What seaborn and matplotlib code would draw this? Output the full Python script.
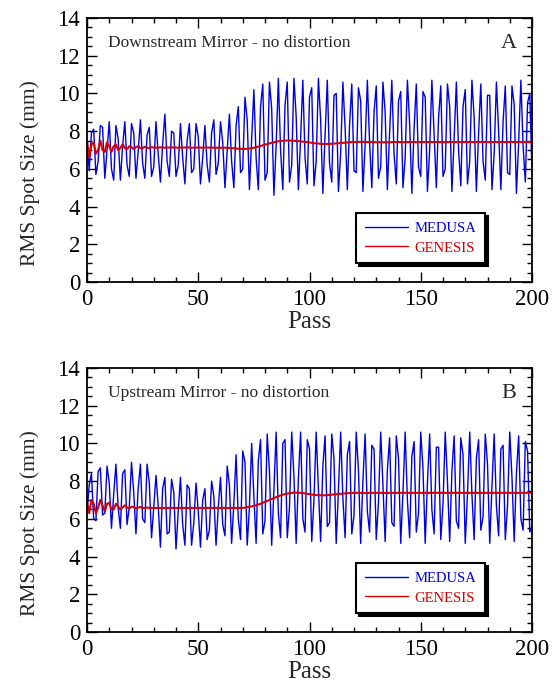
import numpy as np
import pandas as pd
import matplotlib
matplotlib.use("Agg")
import matplotlib.pyplot as plt
from matplotlib.ticker import MultipleLocator
import seaborn as sns

# ---------------- data ----------------
medusa_a = [
    7.4, 5.9, 7.9, 8.1, 5.7, 6.4, 8.3, 8.2, 5.5, 7.0,
    8.5, 6.0, 5.4, 8.3, 7.6, 5.4, 7.2, 8.5, 6.2, 5.6,
    8.4, 7.9, 5.5, 6.9, 8.6, 6.3, 5.5, 7.8, 8.2, 5.6,
    6.1, 8.5, 6.8, 5.3, 7.3, 8.9, 6.4, 5.6, 8.0, 7.9,
    5.6, 6.2, 8.4, 6.6, 5.2, 7.5, 8.4, 5.8, 6.0, 8.4,
    7.7, 5.2, 6.6, 8.3, 6.2, 5.3, 7.9, 8.6, 5.7, 6.3,
    8.5, 7.4, 5.0, 7.0, 8.9, 6.4, 5.0, 8.3, 9.3, 5.8,
    6.0, 9.8, 8.6, 4.9, 7.5, 10.2, 6.6, 4.9, 9.3, 10.5,
    5.4, 5.8, 10.6, 9.2, 4.6, 7.2, 10.8, 7.0, 4.9, 9.4,
    10.6, 5.3, 6.2, 10.8, 8.8, 4.9, 7.6, 10.7, 6.6, 5.2,
    9.8, 10.3, 5.1, 6.4, 10.8, 8.6, 4.7, 7.8, 10.7, 6.3,
    5.3, 9.9, 10.0, 4.8, 6.8, 10.6, 8.2, 4.9, 8.3, 10.5,
    5.9, 5.8, 10.3, 9.6, 4.8, 7.3, 10.7, 7.4, 5.0, 9.0,
    10.4, 5.5, 6.1, 10.6, 9.0, 4.9, 7.9, 10.7, 6.8, 5.2,
    9.6, 10.1, 5.0, 6.6, 10.7, 8.4, 4.7, 8.1, 10.5, 6.1,
    5.6, 10.1, 9.8, 4.8, 7.0, 10.7, 7.8, 5.0, 8.7, 10.4,
    5.6, 6.0, 10.5, 9.3, 4.8, 7.6, 10.6, 7.0, 5.1, 9.3,
    10.2, 5.2, 6.4, 10.7, 8.7, 4.8, 7.9, 10.5, 6.4, 5.4,
    9.9, 9.9, 4.9, 6.8, 10.6, 8.0, 4.9, 8.5, 10.4, 5.8,
    5.7, 10.4, 9.4, 4.7, 7.4, 10.7, 7.2, 5.3, 9.5, 10.0,
    5.8,
]
genesis_a = [
    7.5, 6.6, 7.3, 7.4, 6.8, 7.0, 7.5, 7.0, 6.9, 7.4,
    7.2, 6.9, 7.2, 7.3, 7.0, 7.1, 7.3, 7.1, 7.05, 7.2,
    7.15, 7.05, 7.15, 7.2, 7.1, 7.1, 7.17, 7.12, 7.1, 7.15,
    7.13, 7.12, 7.13, 7.14, 7.13, 7.12, 7.13, 7.13, 7.14, 7.13,
    7.13, 7.12, 7.13, 7.13, 7.13, 7.14, 7.13, 7.12, 7.13, 7.13,
    7.13, 7.13, 7.12, 7.13, 7.13, 7.13, 7.13, 7.12, 7.12, 7.12,
    7.12, 7.12, 7.12, 7.11, 7.11, 7.1, 7.09, 7.08, 7.07, 7.06,
    7.06, 7.06, 7.07, 7.08, 7.1, 7.12, 7.15, 7.18, 7.21, 7.25,
    7.28, 7.32, 7.35, 7.38, 7.41, 7.44, 7.46, 7.48, 7.49, 7.5,
    7.5, 7.5, 7.5, 7.49, 7.48, 7.47, 7.45, 7.44, 7.43, 7.42,
    7.4, 7.38, 7.36, 7.35, 7.34, 7.33, 7.32, 7.32, 7.32, 7.32,
    7.33, 7.34, 7.35, 7.36, 7.37, 7.38, 7.39, 7.4, 7.41, 7.42,
    7.42, 7.42, 7.43, 7.43, 7.43, 7.42, 7.42, 7.42, 7.42, 7.42,
    7.41, 7.41, 7.41, 7.41, 7.41, 7.41, 7.41, 7.42, 7.42, 7.42,
    7.42, 7.42, 7.42, 7.42, 7.42, 7.42, 7.42, 7.42, 7.42, 7.42,
    7.42, 7.42, 7.42, 7.42, 7.42, 7.42, 7.42, 7.42, 7.42, 7.42,
    7.42, 7.42, 7.42, 7.42, 7.42, 7.42, 7.42, 7.42, 7.42, 7.42,
    7.42, 7.42, 7.42, 7.42, 7.42, 7.42, 7.42, 7.42, 7.42, 7.42,
    7.42, 7.42, 7.42, 7.42, 7.42, 7.42, 7.42, 7.42, 7.42, 7.42,
    7.42, 7.42, 7.42, 7.42, 7.42, 7.42, 7.42, 7.42, 7.42, 7.42,
    7.42,
]
medusa_b = [
    6.3, 7.8, 8.4, 6.0, 5.9, 8.5, 8.7, 6.2, 6.3, 8.8,
    7.9, 5.5, 7.3, 8.9, 6.6, 5.5, 8.4, 8.6, 5.7, 6.6,
    9.0, 7.4, 5.2, 7.6, 8.9, 6.0, 5.8, 8.9, 7.9, 5.0,
    6.6, 8.3, 6.7, 4.5, 7.6, 8.2, 5.2, 5.3, 8.1, 7.4,
    4.4, 6.4, 8.2, 5.7, 4.6, 7.8, 7.6, 4.6, 5.8, 7.9,
    6.4, 4.5, 7.0, 7.6, 4.9, 5.4, 8.0, 7.2, 4.6, 6.6,
    8.2, 5.7, 5.1, 8.8, 7.8, 4.7, 6.8, 9.4, 6.0, 4.9,
    9.6, 9.0, 4.6, 6.6, 10.0, 7.2, 4.7, 9.1, 10.2, 5.2,
    5.9, 10.5, 8.5, 4.6, 7.5, 10.6, 6.3, 5.0, 10.0, 10.2,
    5.0, 6.6, 10.6, 8.3, 4.7, 8.1, 10.6, 6.0, 5.3, 10.2,
    9.7, 4.8, 7.0, 10.6, 7.6, 4.8, 8.8, 10.4, 5.6, 5.8,
    10.5, 9.2, 4.7, 7.5, 10.6, 7.1, 5.0, 9.4, 10.1, 5.2,
    6.2, 10.6, 8.6, 4.7, 8.0, 10.5, 6.4, 5.3, 9.9, 9.7,
    4.9, 6.9, 10.6, 7.8, 4.8, 8.6, 10.3, 5.8, 5.6, 10.4,
    9.2, 4.7, 7.4, 10.6, 7.0, 5.0, 9.3, 10.1, 5.3, 6.3,
    10.6, 8.7, 4.7, 7.9, 10.5, 6.5, 5.2, 9.8, 9.8, 4.9,
    6.8, 10.6, 8.0, 4.8, 8.5, 10.4, 5.9, 5.5, 10.3, 9.4,
    4.7, 7.3, 10.6, 7.3, 4.9, 9.2, 10.2, 5.4, 6.1, 10.5,
    8.9, 4.7, 7.7, 10.5, 6.7, 5.1, 9.7, 9.9, 4.9, 6.7,
    10.6, 8.2, 4.8, 8.4, 10.4, 6.0, 5.4, 10.1, 9.6, 5.3,
    5.6,
]
genesis_b = [
    6.9, 6.3, 7.0, 6.8, 6.3, 6.6, 7.0, 6.7, 6.4, 6.8,
    6.85, 6.5, 6.5, 6.8, 6.65, 6.5, 6.6, 6.72, 6.6, 6.55,
    6.65, 6.63, 6.55, 6.6, 6.63, 6.57, 6.58, 6.6, 6.58, 6.57,
    6.58, 6.58, 6.57, 6.58, 6.58, 6.58, 6.57, 6.58, 6.58, 6.58,
    6.58, 6.57, 6.58, 6.58, 6.58, 6.58, 6.57, 6.58, 6.58, 6.58,
    6.58, 6.58, 6.57, 6.58, 6.58, 6.58, 6.58, 6.57, 6.58, 6.58,
    6.58, 6.58, 6.58, 6.57, 6.58, 6.58, 6.58, 6.58, 6.58, 6.58,
    6.58, 6.6, 6.62, 6.64, 6.66, 6.69, 6.72, 6.76, 6.8, 6.85,
    6.9, 6.95, 7.0, 7.05, 7.1, 7.15, 7.2, 7.24, 7.28, 7.31,
    7.34, 7.36, 7.38, 7.39, 7.39, 7.39, 7.38, 7.37, 7.35, 7.33,
    7.31, 7.29, 7.27, 7.26, 7.25, 7.25, 7.25, 7.25, 7.26, 7.27,
    7.28, 7.3, 7.31, 7.32, 7.33, 7.34, 7.35, 7.36, 7.37, 7.37,
    7.38, 7.38, 7.38, 7.38, 7.37, 7.37, 7.37, 7.38, 7.38, 7.38,
    7.38, 7.38, 7.38, 7.37, 7.37, 7.37, 7.38, 7.38, 7.38, 7.38,
    7.38, 7.38, 7.38, 7.38, 7.38, 7.38, 7.38, 7.38, 7.38, 7.38,
    7.38, 7.38, 7.38, 7.38, 7.38, 7.38, 7.38, 7.38, 7.38, 7.38,
    7.38, 7.38, 7.38, 7.38, 7.38, 7.38, 7.38, 7.38, 7.38, 7.38,
    7.38, 7.38, 7.38, 7.38, 7.38, 7.38, 7.38, 7.38, 7.38, 7.38,
    7.38, 7.38, 7.38, 7.38, 7.38, 7.38, 7.38, 7.38, 7.38, 7.38,
    7.38, 7.38, 7.38, 7.38, 7.38, 7.38, 7.38, 7.38, 7.38, 7.38,
    7.38,
]
series_names = ["MEDUSA", "GENESIS"]
panel_titles = ["Downstream Mirror - no distortion", "Upstream Mirror - no distortion"]
panel_letters = ["A", "B"]
x_label = "Pass"
y_label = "RMS Spot Size (mm)"

# ---------------- style ----------------
sns.set_style("ticks")
plt.rcParams["font.family"] = ["Liberation Serif", "DejaVu Serif"]

BLUE = "#0000e6"
RED = "#d40000"

fig = plt.figure(figsize=(5.6, 6.84), dpi=100)
W, H = 560.0, 684.0
ax_a = fig.add_axes([87 / W, 1 - 282 / H, 445 / W, 264 / H])
ax_b = fig.add_axes([87 / W, 1 - 632 / H, 445 / W, 264 / H])

panels = [(ax_a, medusa_a, genesis_a), (ax_b, medusa_b, genesis_b)]
for i, (ax, med, gen) in enumerate(panels):
    df = pd.DataFrame({
        "Pass": list(range(len(med))) + list(range(len(gen))),
        "Size": med + gen,
        "Code": [series_names[0]] * len(med) + [series_names[1]] * len(gen),
    })
    sns.lineplot(data=df[df.Code == series_names[0]], x="Pass", y="Size", ax=ax,
                 color=BLUE, lw=1.0, label=series_names[0], estimator=None)
    sns.lineplot(data=df[df.Code == series_names[1]], x="Pass", y="Size", ax=ax,
                 color=RED, lw=1.5, label=series_names[1], estimator=None)

    ax.set_xlim(0, 200)
    ax.set_ylim(0, 14)
    ax.xaxis.set_major_locator(MultipleLocator(50))
    ax.xaxis.set_minor_locator(MultipleLocator(10))
    ax.yaxis.set_major_locator(MultipleLocator(2))
    ax.yaxis.set_minor_locator(MultipleLocator(0.5))
    ax.tick_params(which="both", direction="in", top=True, right=True,
                   width=1.0, colors="black")
    ax.tick_params(which="major", length=7, labelsize=16.5, pad=5)
    ax.tick_params(which="minor", length=3.5)
    for sp in ax.spines.values():
        sp.set_linewidth(1.3)
        sp.set_color("black")
    ax.set_xlabel(x_label, fontsize=18, labelpad=1)
    ax.set_ylabel(y_label, fontsize=15.5)
    ax.yaxis.set_label_coords(-0.105, 0.413)

    ax.text(0.047, 0.905, panel_titles[i], transform=ax.transAxes,
            fontsize=12.5, ha="left", va="center")
    ax.text(0.965, 0.905, panel_letters[i], transform=ax.transAxes,
            fontsize=16, ha="right", va="center")

    leg = ax.legend(loc="upper left", bbox_to_anchor=(0.604, 0.262),
                    fontsize=10.5, frameon=True, fancybox=False,
                    framealpha=1, edgecolor="black", handlelength=3.0,
                    handletextpad=0.45, borderpad=0.6, labelspacing=0.45,
                    borderaxespad=0,
                    shadow={"color": "black", "alpha": 1.0})
    leg.get_frame().set_linewidth(1.5)
    for txt, col in zip(leg.get_texts(), [BLUE, RED]):
        txt.set_color(col)
    for ln in leg.get_lines():
        ln.set_linewidth(1.0)

fig.savefig("out.png", dpi=100)
